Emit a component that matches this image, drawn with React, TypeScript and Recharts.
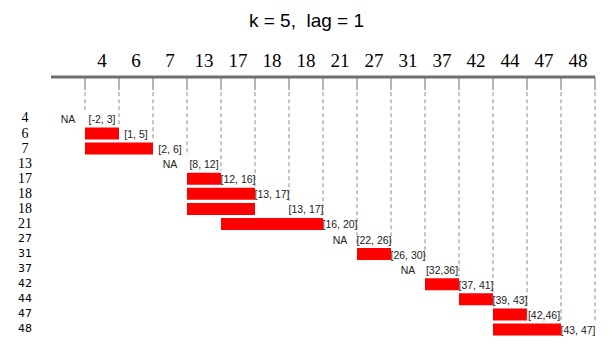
import React from 'react'
import {
  Bar,
  ComposedChart,
  ReferenceLine,
  Scatter,
  XAxis,
  YAxis
} from 'recharts'

// sorted observations, one row and one column each
const values = [4, 6, 7, 13, 17, 18, 18, 21, 27, 31, 37, 42, 44, 47, 48]

// window [x - k, x - lag] printed for every row
const windowLabels = [
  '[-2, 3]', '[1, 5]', '[2, 6]', '[8, 12]', '[12, 16]', '[13, 17]', '[13, 17]',
  '[16, 20]', '[22, 26]', '[26, 30]', '[32,36]', '[37, 41]', '[39, 43]', '[42,46]', '[43, 47]'
]

// first / last column covered by the red bar (null = NA, nothing in window)
const windowFrom = [null, 0, 0, null, 3, 3, 3, 4, null, 8, null, 10, 11, 12, 12]
const windowTo = [null, 1, 2, null, 4, 5, 5, 7, null, 9, null, 11, 12, 13, 14]

// row where each dashed column divider stops
const dividerEndRow = [-1, 0, 1, 2, 3, 4, 5, 6, 8, 8, 9, 10, 12, 13, 13, 13]

const rows = values.map((value, i) => ({
  row: i,
  value,
  win: windowFrom[i] === null ? null : [windowFrom[i], windowTo[i]]
}))

const textPoints = [
  ...values.map((_, i) => ({ row: i, col: i + 0.5, text: windowLabels[i] })),
  ...rows.filter((r) => r.win === null).map((r) => ({ row: r.row, col: r.row - 0.5, text: 'NA' }))
]

const Y_TOP = -2.72
const Y_BOTTOM = 14.73
const TICK_END = -1.86

const RowTick = (props: any) => {
  const { x, y, payload } = props
  const i = payload.value
  const serif = i < 8
  return (
    <text
      x={x}
      y={y}
      textAnchor="middle"
      dominantBaseline="central"
      fontFamily={serif ? '"Liberation Serif", serif' : '"DejaVu Sans", sans-serif'}
      fontSize={serif ? 14 : 11}
      fill="#000"
    >
      {values[i]}
    </text>
  )
}

const CellText = (props: any) => {
  const { cx, cy, payload } = props
  return (
    <text
      x={cx}
      y={cy + 1}
      textAnchor="middle"
      dominantBaseline="central"
      fontFamily='"Liberation Sans", Arial, sans-serif'
      fontSize={10.5}
      fill="#222"
    >
      {payload.text}
    </text>
  )
}

export default function App() {
  const boundaries = values.map((_, i) => i).concat(values.length)
  return (
    <div style={{ position: 'absolute', left: 0, top: 0, width: 613, height: 348, background: '#fff' }}>
      <div
        style={{
          position: 'absolute',
          top: 11,
          left: 0,
          width: 613,
          textAlign: 'center',
          whiteSpace: 'pre',
          fontFamily: '"Liberation Sans", Arial, sans-serif',
          fontSize: 19,
          lineHeight: '19px',
          color: '#000'
        }}
      >
        {'k = 5,  lag = 1'}
      </div>
      <ComposedChart
        width={613}
        height={348}
        data={rows}
        layout="vertical"
        margin={{ top: 0, right: 18, bottom: 8, left: 0 }}
      >
        <XAxis
          type="number"
          orientation="top"
          domain={[-1, values.length]}
          allowDataOverflow
          ticks={values.map((_, i) => i + 0.5)}
          interval={0}
          tickFormatter={(v) => String(values[Math.floor(v)])}
          height={77}
          tickLine={false}
          tickSize={0}
          tickMargin={10}
          axisLine={{ stroke: '#6e6e6e', strokeWidth: 3 }}
          tick={{ fontFamily: '"Liberation Serif", serif', fontSize: 19, fill: '#000' }}
        />
        <YAxis
          type="number"
          dataKey="row"
          domain={[Y_TOP, Y_BOTTOM]}
          allowDataOverflow
          ticks={values.map((_, i) => i)}
          interval={0}
          width={51}
          tickLine={false}
          axisLine={false}
          tickSize={0}
          tickMargin={26}
          tick={<RowTick />}
        />
        {boundaries.map((b) => (
          <ReferenceLine
            key={'t' + b}
            segment={[{ x: b, y: Y_TOP }, { x: b, y: TICK_END }]}
            stroke="#6e6e6e"
            strokeWidth={1}
            ifOverflow="visible"
          />
        ))}
        {boundaries.map((b) => (
          <ReferenceLine
            key={'d' + b}
            segment={[{ x: b, y: TICK_END + 0.15 }, { x: b, y: dividerEndRow[b] + 0.5 }]}
            stroke="#8c8c8c"
            strokeWidth={1}
            strokeDasharray="4 3"
            ifOverflow="visible"
          />
        ))}
        <Bar dataKey="win" fill="#ff0000" barSize={12} isAnimationActive={false} />
        <Scatter
          data={textPoints}
          dataKey="col"
          shape={<CellText />}
          isAnimationActive={false}
        />
      </ComposedChart>
    </div>
  )
}
